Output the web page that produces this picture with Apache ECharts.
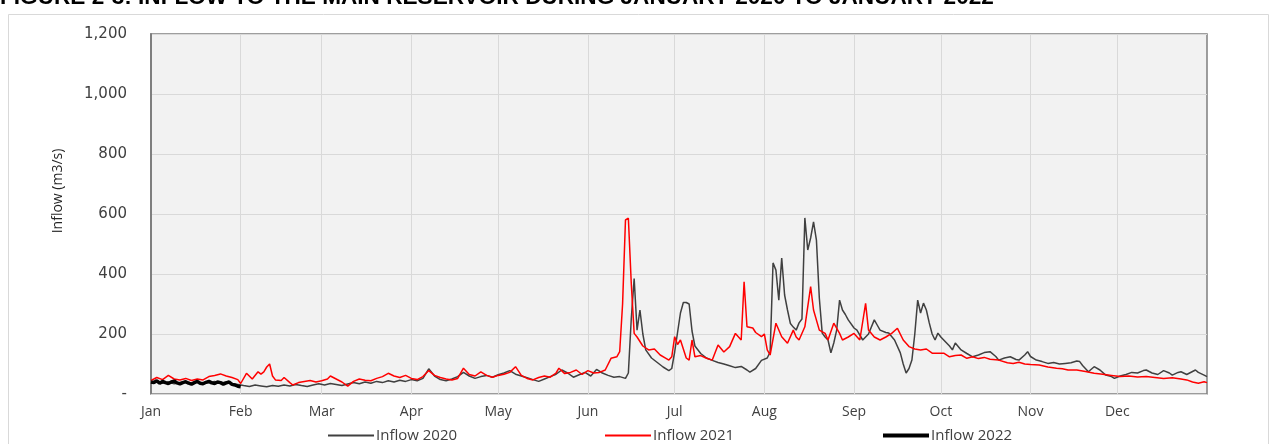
<!DOCTYPE html>
<html>
<head>
<meta charset="utf-8">
<script src="https://cdn.jsdelivr.net/npm/echarts@6/dist/echarts.min.js"></script>
<style>
  html, body { margin: 0; padding: 0; background: #ffffff; }
  #chart { width: 1276px; height: 444px; }
</style>
</head>
<body>
<div id="chart"></div>
<script>
// Day of year at the start of each month, and the month names drawn under them
const monthStarts = [0, 31, 59, 90, 120, 151, 181, 212, 243, 273, 304, 334];
const monthLabels = ['Jan', 'Feb', 'Mar', 'Apr', 'May', 'Jun', 'Jul', 'Aug', 'Sep', 'Oct', 'Nov', 'Dec'];

const seriesNames = ['Inflow 2020', 'Inflow 2021', 'Inflow 2022'];

// Daily inflow (m3/s) as [day of year, value]
const inflow2020 = [
  [0,38],[2,42],[4,36],[6,40],[8,34],[10,38],[12,42],[14,36],[16,40],[18,35],[20,38],[22,42],[24,37],[26,40],[28,35],[30,32],
  [32,28],[34,25],[36,30],[38,27],[40,24],[42,28],[44,26],[46,30],[48,27],[50,32],[52,28],[54,25],[56,30],[58,34],
  [60,30],[62,35],[64,32],[66,28],[68,33],[70,38],[72,34],[74,40],[76,36],[78,42],[80,38],[82,44],[84,40],[86,46],[88,42],
  [90,48],[92,44],[94,52],[96,84],[98,60],[100,48],[102,44],[104,50],[106,58],[108,72],[110,60],[112,52],[114,58],[116,62],[118,56],
  [120,64],[122,70],[124,78],[126,66],[128,60],[130,54],[132,48],[134,42],[136,50],[138,58],[140,66],[142,80],[144,70],[146,56],[148,64],
  [150,72],[152,60],[154,82],[156,70],[158,62],[160,56],[162,58],[164,52],[165,70],[166,250],[167,385],[168,213],[169,280],[170,200],
  [171,147],[173,120],[175,105],[177,90],[179,78],[180,85],[181,140],[182,205],[183,270],[184,305],[185,305],[186,300],[187,210],[188,160],
  [190,135],[192,120],[194,112],[196,105],[198,100],[200,94],[202,88],[204,92],[206,80],[207,73],[209,85],[211,112],[213,120],[214,140],
  [215,437],[216,413],[217,313],[218,453],[219,330],[220,280],[221,235],[222,223],[223,213],[224,237],[225,250],[226,587],[227,480],
  [228,520],[229,574],[230,513],[231,320],[232,203],[233,190],[234,180],[235,137],[236,170],[237,213],[238,313],[239,280],[240,265],
  [241,247],[243,220],[244,213],[246,180],[248,200],[250,247],[251,230],[252,213],[254,205],[255,203],[257,180],[259,137],[260,100],
  [261,70],[262,85],[263,113],[264,200],[265,313],[266,270],[267,303],[268,280],[269,237],[270,200],[271,180],[272,203],[273,190],
  [275,170],[276,160],[277,147],[278,170],[280,147],[282,135],[284,124],[286,130],[288,138],[290,141],[292,125],[293,113],[295,120],
  [297,124],[299,115],[300,113],[302,130],[303,141],[304,125],[306,113],[308,108],[310,102],[312,105],[314,100],[316,102],[318,104],
  [320,110],[321,108],[322,95],[324,74],[326,91],[328,80],[330,63],[332,58],[333,52],[335,60],[337,65],[339,72],[341,70],[343,78],
  [344,80],[346,70],[348,65],[350,78],[352,70],[353,63],[355,72],[356,74],[358,65],[360,75],[361,80],[362,72],[364,63],[365,58]
];

const inflow2021 = [
  [0,45],[2,55],[4,48],[6,62],[8,50],[10,47],[12,52],[14,45],[16,50],[18,47],[20,58],[22,62],[24,67],[26,60],[28,55],[30,48],
  [31,35],[33,69],[35,50],[37,74],[38,66],[39,74],[40,90],[41,100],[42,60],[43,47],[45,45],[46,55],[48,38],[49,30],[51,38],[53,42],
  [55,45],[57,40],[59,44],[61,50],[62,60],[64,50],[66,40],[68,26],[70,42],[72,50],[74,46],[76,44],[78,52],[80,58],[82,69],[84,60],
  [86,55],[88,62],[90,52],[92,48],[94,58],[96,78],[98,62],[100,55],[102,50],[104,47],[106,52],[108,86],[110,65],[112,60],[114,74],
  [116,62],[118,56],[120,62],[122,66],[124,72],[126,91],[128,62],[130,52],[132,47],[134,55],[136,60],[138,56],[140,70],[141,86],
  [143,68],[145,72],[147,80],[149,65],[151,78],[153,70],[155,72],[157,80],[159,119],[161,124],[162,141],[163,300],[164,580],[165,586],
  [166,369],[167,202],[168,190],[170,160],[172,147],[174,150],[176,130],[178,119],[179,113],[180,124],[181,191],[182,165],[183,180],
  [184,150],[185,120],[186,113],[187,180],[188,124],[190,128],[192,119],[194,113],[196,163],[198,140],[200,158],[202,202],[204,180],
  [205,374],[206,224],[208,220],[209,205],[211,191],[212,200],[213,147],[214,130],[216,236],[218,191],[220,169],[222,213],[223,190],
  [224,180],[226,224],[228,358],[229,280],[231,213],[233,202],[234,180],[236,236],[238,202],[239,180],[241,190],[243,202],[245,180],
  [247,302],[248,213],[250,190],[252,180],[254,190],[256,202],[258,219],[260,180],[262,158],[264,150],[266,147],[268,150],[270,136],
  [272,136],[274,136],[276,124],[278,128],[280,130],[282,119],[284,124],[286,118],[288,122],[290,116],[293,113],[296,104],[298,102],
  [300,106],[302,100],[304,98],[307,97],[310,90],[313,86],[315,84],[317,80],[320,80],[323,75],[326,69],[329,66],[332,62],[335,58],
  [338,60],[341,57],[344,58],[347,55],[350,52],[353,54],[356,50],[358,47],[360,40],[362,36],[364,41],[365,38]
];

const inflow2022 = [
  [0,40],[1,38],[2,44],[3,36],[4,42],[5,38],[6,35],[7,40],[8,43],[9,37],[10,34],[11,38],[12,41],[13,36],[14,33],[15,38],
  [16,42],[17,36],[18,34],[19,39],[20,42],[21,37],[22,35],[23,40],[24,38],[25,33],[26,37],[27,40],[28,32],[29,30],[30,26],[31,24]
];

const chart = echarts.init(document.getElementById('chart'), null, { renderer: 'canvas' });

const legendBase = {
  top: 423,
  itemWidth: 46,
  itemGap: 10,
  icon: 'rect',
  textStyle: { fontFamily: 'Open Sans', fontSize: 15, color: '#404040', padding: [0, 0, 0, -3] },
  selectedMode: false
};

chart.setOption({
  animation: false,
  backgroundColor: '#ffffff',
  graphic: [
    {
      type: 'rect', z: -10, silent: true,
      shape: { x: 8.5, y: 14.5, width: 1260, height: 440 },
      style: { fill: '#ffffff', stroke: '#d9d9d9', lineWidth: 1 }
    },
    {
      type: 'text', silent: true, x: 0, y: 9,
      style: {
        text: 'FIGURE 2-3: INFLOW TO THE MAIN RESERVOIR DURING JANUARY 2020 TO JANUARY 2022',
        font: 'bold 22.6px "Liberation Sans"', fill: '#000000',
        align: 'left', verticalAlign: 'bottom'
      }
    },
    {
      type: 'text', silent: true, x: 58, y: 191, rotation: Math.PI / 2,
      style: {
        text: 'Inflow (m3/s)', font: '14px "Open Sans"', fill: '#262626',
        align: 'center', verticalAlign: 'middle'
      }
    }
  ],
  grid: {
    left: 151, right: 69, top: 34, bottom: 50,
    show: true, backgroundColor: '#f2f2f2', borderColor: '#7f7f7f', borderWidth: 1.5
  },
  legend: [
    Object.assign({}, legendBase, { left: 323, data: [seriesNames[0]], itemHeight: 2 }),
    Object.assign({}, legendBase, { left: 600, data: [seriesNames[1]], itemHeight: 2 }),
    Object.assign({}, legendBase, { left: 878, data: [seriesNames[2]], itemHeight: 4 })
  ],
  xAxis: {
    type: 'value', min: 0, max: 365,
    axisLine: { show: true, lineStyle: { color: '#d9d9d9', width: 1 } },
    axisTick: { show: false, customValues: monthStarts },
    axisLabel: {
      customValues: monthStarts,
      formatter: v => monthLabels[monthStarts.indexOf(v)] || '',
      fontFamily: 'Open Sans', fontSize: 14, color: '#404040', margin: 11
    },
    splitLine: { show: true, lineStyle: { color: '#d9d9d9', width: 1 } }
  },
  yAxis: {
    type: 'value', min: 0, max: 1200, interval: 200,
    axisLine: { show: true, lineStyle: { color: '#7f7f7f', width: 2 } },
    axisTick: { show: false },
    axisLabel: {
      formatter: v => v === 0 ? '-' : v.toLocaleString('en-US'),
      fontFamily: 'DejaVu Sans', fontSize: 15, color: '#404040', margin: 24
    },
    splitLine: { show: true, lineStyle: { color: '#d9d9d9', width: 1 } }
  },
  series: [
    {
      name: seriesNames[0], type: 'line', data: inflow2020, showSymbol: false,
      lineStyle: { color: '#404040', width: 1.5 }, itemStyle: { color: '#404040' }, z: 2
    },
    {
      name: seriesNames[1], type: 'line', data: inflow2021, showSymbol: false,
      lineStyle: { color: '#ff0000', width: 1.5 }, itemStyle: { color: '#ff0000' }, z: 3
    },
    {
      name: seriesNames[2], type: 'line', data: inflow2022, showSymbol: false,
      lineStyle: { color: '#000000', width: 3.5 }, itemStyle: { color: '#000000' }, z: 4
    }
  ]
});
</script>
</body>
</html>
